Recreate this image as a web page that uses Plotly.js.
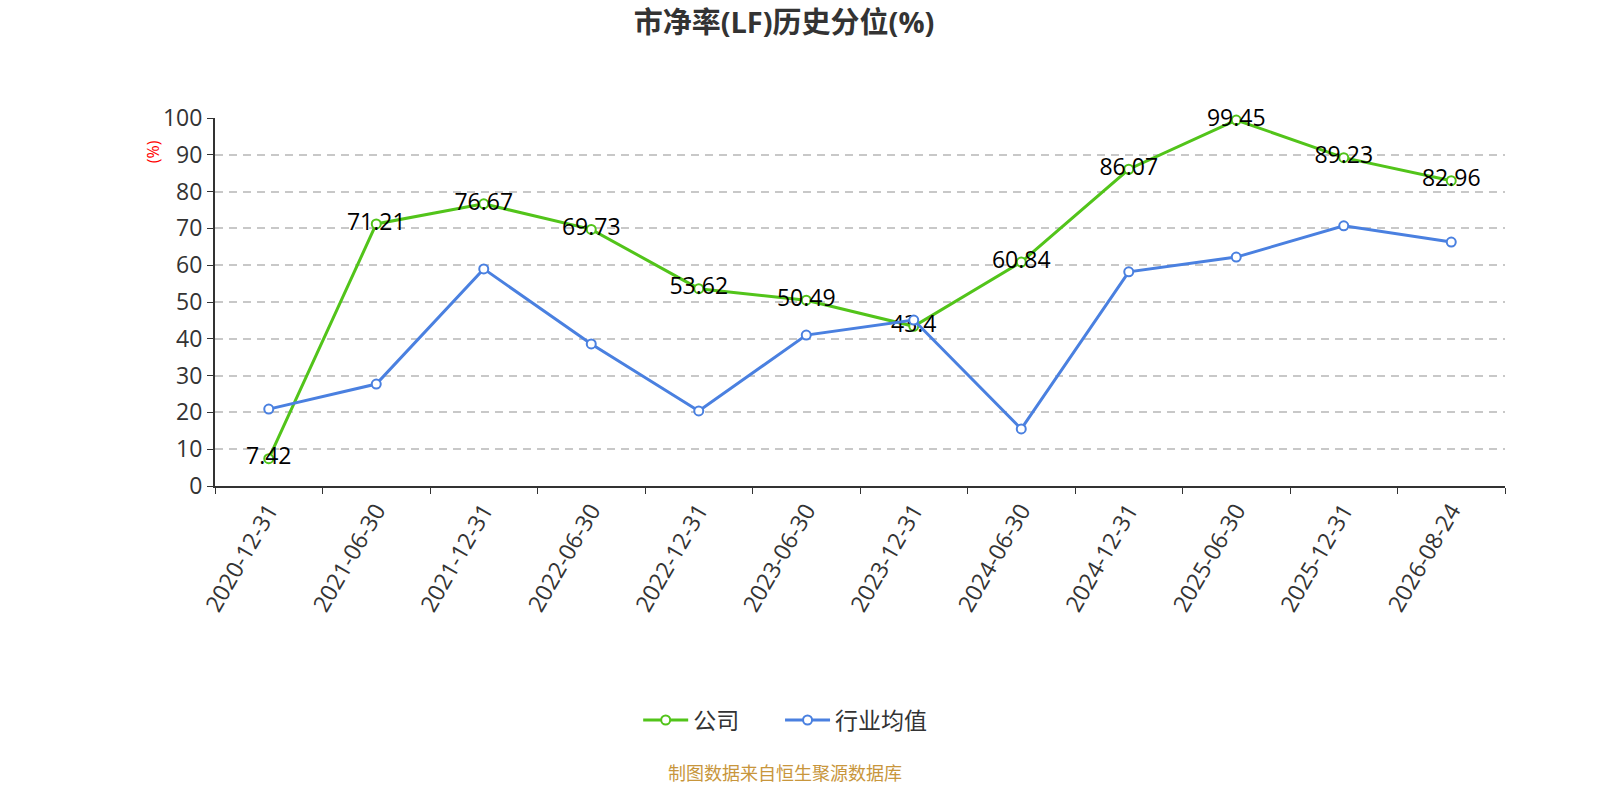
<!DOCTYPE html>
<html>
<head>
<meta charset="utf-8">
<script src="https://cdn.plot.ly/plotly-3.0.1.min.js"></script>
<style>
body { margin: 0; background: #fff; }
#chart { width: 1600px; height: 800px; }
</style>
</head>
<body>
<div id="chart"></div>
<script>
var dates = ["2020-12-31", "2021-06-30", "2021-12-31", "2022-06-30", "2022-12-31", "2023-06-30",
    "2023-12-31", "2024-06-30", "2024-12-31", "2025-06-30", "2025-12-31", "2026-08-24"];
var company = [7.42, 71.21, 76.67, 69.73, 53.62, 50.49, 43.4, 60.84, 86.07, 99.45, 89.23, 82.96];
var industry = [20.9, 27.7, 59.0, 38.6, 20.4, 41.0, 45.1, 15.5, 58.2, 62.2, 70.7, 66.3];
var yTicks = [0, 10, 20, 30, 40, 50, 60, 70, 80, 90, 100];

var font = "'Open Sans', 'Noto Sans CJK SC', sans-serif";
var pad = "\u00a0\u00a0\u00a0\u00a0\u00a0\u00a0"; // extra room between legend items

var traceCompany = {
    type: "scatter",
    mode: "lines+markers+text",
    name: "公司" + pad,
    x: dates,
    y: company,
    text: company.map(String),
    textposition: "middle center",
    textfont: {size: 23, color: "#000", family: font},
    line: {color: "#52c41a", width: 3},
    marker: {symbol: "circle", size: 9, color: "#fff", line: {color: "#52c41a", width: 2}},
    cliponaxis: false
};

var traceIndustry = {
    type: "scatter",
    mode: "lines+markers",
    name: "行业均值",
    x: dates,
    y: industry,
    line: {color: "#4a80e0", width: 3},
    marker: {symbol: "circle", size: 9, color: "#fff", line: {color: "#4a80e0", width: 2}},
    cliponaxis: false
};

var layout = {
    width: 1600,
    height: 800,
    paper_bgcolor: "#fff",
    plot_bgcolor: "#fff",
    font: {family: font, color: "#333"},
    margin: {l: 215, r: 95, t: 118, b: 314},
    title: {
        text: "<b>市净率(LF)历史分位(%)</b>",
        x: 0.49, xanchor: "center",
        y: 0.972, yanchor: "middle",
        font: {size: 29, color: "#333", family: font}
    },
    xaxis: {
        type: "category",
        range: [-0.5, dates.length - 0.5],
        tickson: "boundaries",
        ticks: "outside",
        ticklen: 6,
        tickcolor: "#333",
        tickangle: -60,
        tickfont: {size: 23, color: "#333"},
        showline: true,
        linecolor: "#333",
        linewidth: 2,
        showgrid: false,
        zeroline: false
    },
    yaxis: {
        range: [0, 100],
        tickvals: yTicks,
        ticks: "outside",
        ticklen: 6,
        tickcolor: "#333",
        tickfont: {size: 23, color: "#333"},
        showline: true,
        linecolor: "#333",
        linewidth: 2,
        showgrid: true,
        gridcolor: "#c8c8c8",
        griddash: "8px,6px",
        gridwidth: 1.5,
        zeroline: false
    },
    legend: {
        orientation: "h",
        x: 0.442, xanchor: "center",
        y: -0.636, yanchor: "middle",
        font: {size: 23, color: "#333"},
        itemwidth: 45
    },
    showlegend: true,
    annotations: [
        {
            text: "(%)", xref: "paper", yref: "paper",
            x: -0.048, y: 0.907, xanchor: "center", yanchor: "middle", textangle: -90,
            showarrow: false, font: {size: 16, color: "red"}
        },
        {
            text: "制图数据来自恒生聚源数据库", xref: "paper", yref: "paper",
            x: 0.442, y: -0.78, xanchor: "center", yanchor: "middle",
            showarrow: false, font: {size: 18, color: "#c8963c"}
        }
    ]
};

Plotly.newPlot("chart", [traceCompany, traceIndustry], layout, {displayModeBar: false});
</script>
</body>
</html>
